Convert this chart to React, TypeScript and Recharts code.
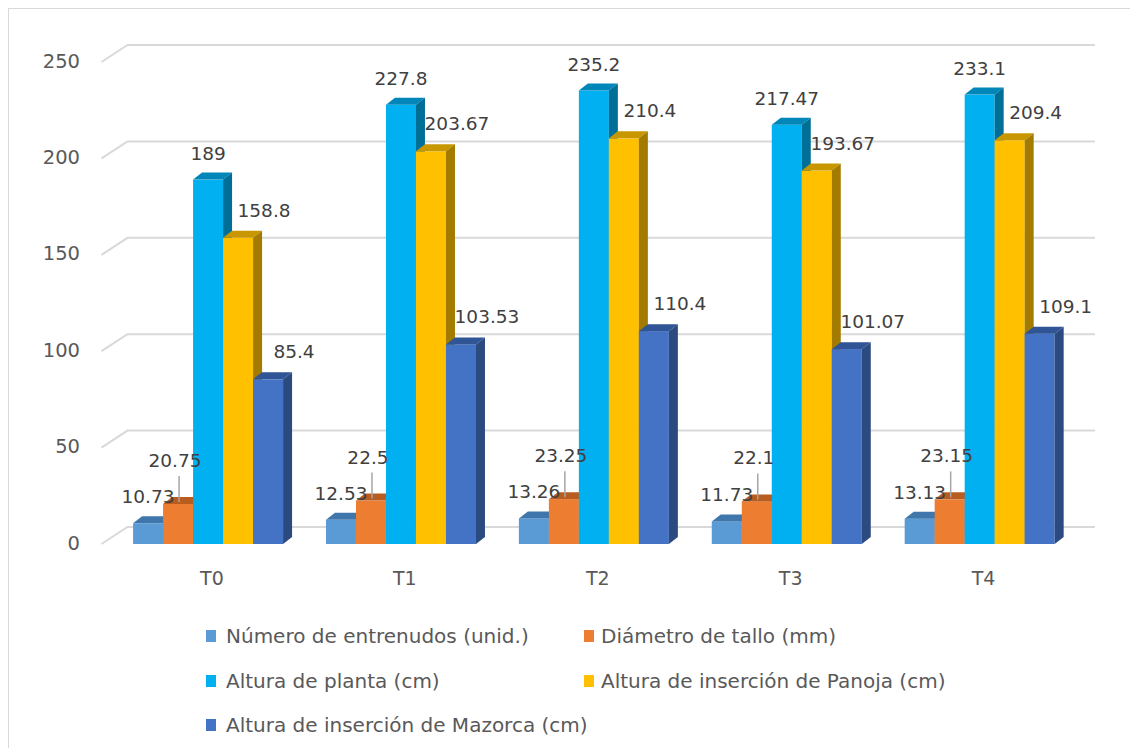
import { BarChart, Bar, XAxis, YAxis, CartesianGrid, LabelList } from "recharts";

const categories = ["T0", "T1", "T2", "T3", "T4"];
const entrenudos = [10.73, 12.53, 13.26, 11.73, 13.13];
const diametro = [20.75, 22.5, 23.25, 22.1, 23.15];
const planta = [189, 227.8, 235.2, 217.47, 233.1];
const panoja = [158.8, 203.67, 210.4, 193.67, 209.4];
const mazorca = [85.4, 103.53, 110.4, 101.07, 109.1];
const yTicks = [0, 50, 100, 150, 200, 250];

const FONT = "'DejaVu Sans', sans-serif";
const DX = 9;
const DY = 7;

// front, top, side colours + label placement per series
const series = [
  { key: "entrenudos", name: "Número de entrenudos (unid.)", values: entrenudos, front: "#5B9BD5", top: "#3F76AB", side: "#3A6A9A", lx: 0, ly: -25, leader: false },
  { key: "diametro", name: "Diámetro de tallo (mm)", values: diametro, front: "#ED7D31", top: "#B85C20", side: "#A9541C", lx: -3, ly: -42, leader: true },
  { key: "planta", name: "Altura de planta (cm)", values: planta, front: "#00B0F0", top: "#0086B8", side: "#006F98", lx: 0, ly: -25, leader: false },
  { key: "panoja", name: "Altura de inserción de Panoja (cm)", values: panoja, front: "#FFC000", top: "#C89700", side: "#A37B00", lx: 26, ly: -26, leader: false },
  { key: "mazorca", name: "Altura de inserción de Mazorca (cm)", values: mazorca, front: "#4472C4", top: "#2F5597", side: "#2A4A80", lx: 26, ly: -26, leader: false },
];

const data = categories.map((c, i) => {
  const row: any = { name: c };
  series.forEach((s) => (row[s.key] = s.values[i]));
  return row;
});

function Box3D(props: any, s: any) {
  const { x, y, width: w, height: h } = props;
  if (!h || h <= 0) return <g />;
  return (
    <g>
      <rect x={x} y={y} width={w} height={h} fill={s.front} />
      <path d={`M${x},${y} L${x + w},${y} L${x + w + DX},${y - DY} L${x + DX},${y - DY} Z`} fill={s.top} />
      <path d={`M${x + w},${y} L${x + w + DX},${y - DY} L${x + w + DX},${y + h - DY} L${x + w},${y + h} Z`} fill={s.side} />
    </g>
  );
}

function makeLabel(s: any) {
  return (p: any) => {
    const cx = p.x + p.width / 2;
    const top = p.y;
    return (
      <g key={`${s.key}-${p.index}`}>
        {s.leader && (
          <line x1={cx + 1} y1={top - 2} x2={cx + 1} y2={top - 28} stroke="#A6A6A6" strokeWidth={1.5} />
        )}
        <text x={cx + s.lx} y={top + s.ly} textAnchor="middle" dominantBaseline="middle" fontFamily={FONT} fontSize={18.5} fill="#404040">
          {String(p.value)}
        </text>
      </g>
    );
  };
}

const gridLine = (p: any) => {
  const { x1, x2, y1 } = p;
  return (
    <path
      key={`grid-${y1}`}
      d={`M${x1 - 9},${y1} L${x1 + 17},${y1 - 17} L${x2 + 20},${y1 - 17}`}
      stroke="#D9D9D9"
      strokeWidth={2}
      fill="none"
    />
  );
};

const YTick = (p: any) => (
  <text x={71} y={p.y} textAnchor="end" dominantBaseline="middle" fontFamily={FONT} fontSize={19.5} fill="#595959">
    {p.payload.value}
  </text>
);

const XTick = (p: any) => (
  <text x={p.x + 5} y={p.y + 27} textAnchor="middle" dominantBaseline="middle" fontFamily={FONT} fontSize={19} fill="#595959">
    {p.payload.value}
  </text>
);

const legendPos = [
  { left: 197, top: 627, textLeft: 217 },
  { left: 575, top: 627, textLeft: 592 },
  { left: 197, top: 672, textLeft: 217 },
  { left: 575, top: 672, textLeft: 592 },
  { left: 197, top: 716, textLeft: 217 },
];

export default function App() {
  return (
    <div style={{ width: 1122, height: 740, overflow: "hidden" }}>
      <div style={{ position: "relative", width: 1200, height: 800, border: "1px solid #D9D9D9", background: "#fff" }}>
        <BarChart
          width={1112}
          height={600}
          data={data}
          margin={{ top: 53, right: 46, bottom: 25, left: 0 }}
          barCategoryGap="11.7%"
          barGap={0}
        >
          <CartesianGrid vertical={false} horizontal={gridLine} />
          <YAxis domain={[0, 250]} ticks={yTicks} width={101.5} axisLine={false} tickLine={false} tick={YTick} />
          <XAxis dataKey="name" height={40} axisLine={false} tickLine={false} tick={XTick} interval={0} />
          {series.map((s) => (
            <Bar key={s.key} dataKey={s.key} name={s.name} fill={s.front} isAnimationActive={false} shape={(p: any) => Box3D(p, s)}>
              <LabelList dataKey={s.key} content={makeLabel(s)} />
            </Bar>
          ))}
        </BarChart>
        {series.map((s, i) => (
          <div key={s.key} style={{ position: "absolute", left: legendPos[i].left, top: legendPos[i].top - 13, height: 26, display: "flex", alignItems: "center" }}>
            <div style={{ width: 10, height: 12, background: s.front, marginRight: legendPos[i].textLeft - legendPos[i].left - 10 }} />
            <span style={{ fontFamily: FONT, fontSize: 20, color: "#595959", whiteSpace: "nowrap" }}>{s.name}</span>
          </div>
        ))}
      </div>
    </div>
  );
}
